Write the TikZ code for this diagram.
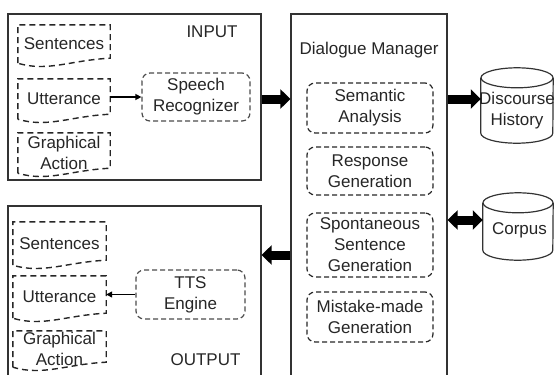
\documentclass[tikz,border=0pt]{standalone}
\usepackage{fontspec}
\setmainfont{Liberation Sans}
\usetikzlibrary{arrows.meta}
\newcommand{\docpath}[1]{\draw[docline] (#1.south west) -- (#1.north west) -- (#1.north east) -- ([yshift=5pt]#1.south east) .. controls +(-40pt,-2pt) and +(30pt,-9pt) .. (#1.south west);}
\newcommand{\cylpath}[3]{%
  \draw[frame] ([yshift=-#3]#1.north west) -- ([yshift=#3]#1.south west) arc[start angle=180,end angle=360,x radius=#2,y radius=#3] -- ([yshift=-#3]#1.north east);
  \draw[frame] ([yshift=-#3]#1.north) ellipse[x radius=#2,y radius=#3];}
\begin{document}
\begin{tikzpicture}[x=1pt,y=-1pt,
  every node/.style={font=\fontsize{17}{21}\selectfont, align=center, inner sep=0pt, text=black!85},
  frame/.style={draw=black!80, line width=1.2pt},
  docline/.style={draw=black!85, line width=1.4pt, dash pattern=on 6pt off 4pt},
  rbox/.style={draw=black!70, line width=1.2pt, dash pattern=on 5pt off 3pt, rounded corners=8pt},
  bigarrow/.style={draw=black, line width=9pt, -{Triangle[length=10pt,width=19pt]}},
  dblarrow/.style={draw=black, line width=9pt, {Triangle[length=10pt,width=19pt]}-{Triangle[length=10pt,width=19pt]}},
  smallarrow/.style={draw=black, line width=1.3pt, -{Triangle[length=6pt,width=6pt]}}]
\useasboundingbox (0,0) rectangle (555,375);

% frames
\node[frame, minimum width=253pt, minimum height=166pt] (inbox) at (134.5,97) {};
\node[frame, minimum width=253pt, minimum height=170pt] (outbox) at (134.5,291) {};
\node[frame, minimum width=156pt, minimum height=362pt] (dm) at (369,195) {};

\node (inlabel) at (212,32) {INPUT};
\node (outlabel) at (205.5,360) {OUTPUT};
\node (dmlabel) at (369,50) {Dialogue Manager};

% input documents
\node[minimum width=92pt, minimum height=38pt] (isent) at (64,44) {Sentences};
\node[minimum width=92pt, minimum height=40pt] (iutt) at (64,99) {Utterance};
\node[minimum width=92pt, minimum height=40pt] (igra) at (64,153) {Graphical\\Action};
\docpath{isent}
\docpath{iutt}
\docpath{igra}

% output documents
\node[minimum width=93pt, minimum height=43pt] (osent) at (59.5,243.5) {Sentences};
\node[minimum width=93pt, minimum height=42pt] (outt) at (59.5,297) {Utterance};
\node[minimum width=93pt, minimum height=36pt] (ogra) at (59.5,349) {Graphical\\Action};
\docpath{osent}
\docpath{outt}
\docpath{ogra}

% rounded process boxes
\node[rbox, minimum width=108pt, minimum height=48pt] (sr) at (196,97) {Speech\\Recognizer};
\node[rbox, minimum width=109pt, minimum height=49pt] (tts) at (190.5,294.5) {TTS\\Engine};
\node[rbox, draw=black!85, minimum width=126pt, minimum height=50pt] (sa) at (370,108) {Semantic\\Analysis};
\node[rbox, draw=black!85, minimum width=126pt, minimum height=48pt] (rg) at (370,171) {Response\\Generation};
\node[rbox, draw=black!85, minimum width=126pt, minimum height=64pt] (ssg) at (370,245) {Spontaneous\\Sentence\\Generation};
\node[rbox, draw=black!85, minimum width=126pt, minimum height=50pt] (mmg) at (370,317) {Mistake-made\\Generation};

% cylinders
\node[minimum width=72pt, minimum height=75pt] (dh) at (517,105.5) {};
\cylpath{dh}{36pt}{10pt}
\node (dhtext) at (517,111) {Discourse\\History};
\node[minimum width=70pt, minimum height=67pt] (co) at (518,226.5) {};
\cylpath{co}{35pt}{10pt}
\node (cotext) at (519.5,230) {Corpus};

% connectors
\coordinate (ya) at (0,99);
\coordinate (yb) at (0,220);
\coordinate (yc) at (0,255);
\draw[smallarrow] (iutt.east |- sr.west) -- (sr.west);
\draw[smallarrow] (tts.west) -- (outt.east |- tts.west);
\draw[bigarrow] (inbox.east |- ya) -- (dm.west |- ya);
\draw[bigarrow] (dm.east |- ya) -- (dh.west |- ya);
\draw[dblarrow] (dm.east |- yb) -- (co.west |- yb);
\draw[bigarrow] (dm.west |- yc) -- (outbox.east |- yc);
\end{tikzpicture}
\end{document}
